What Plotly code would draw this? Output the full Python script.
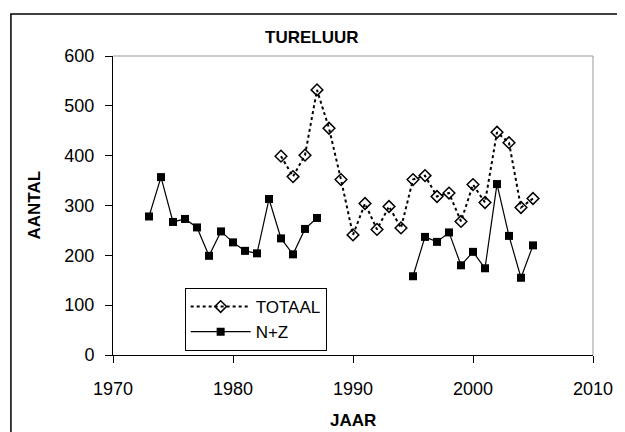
import plotly.graph_objects as go

years_nz = [1973, 1974, 1975, 1976, 1977, 1978, 1979, 1980, 1981, 1982, 1983, 1984, 1985, 1986, 1987,
            1988,
            1995, 1996, 1997, 1998, 1999, 2000, 2001, 2002, 2003, 2004, 2005]
values_nz = [278, 357, 267, 273, 256, 199, 248, 226, 209, 204, 313, 234, 202, 253, 275,
             None,
             158, 237, 227, 246, 180, 207, 174, 343, 239, 155, 220]

years_tot = list(range(1984, 2006))
values_tot = [399, 358, 401, 532, 455, 352, 241, 304, 252, 298, 255, 352, 360, 318, 325,
              268, 342, 306, 447, 426, 296, 314]

x_ticks = [1970, 1980, 1990, 2000, 2010]
y_ticks = [0, 100, 200, 300, 400, 500, 600]

FONT = "Liberation Sans, Arial, sans-serif"

# page body has an 8px margin; lay out in screen pixels and shift
OFF = 8
W, H = 625 - OFF, 432 - OFF
PL, PR, PT, PB = 113, 602, 56, 355  # plot area in screen px
L, T = PL - OFF, PT - OFF
R, B = W - (PR - OFF), H - (PB - OFF)
pw, ph = PR - PL, PB - PT

def px_x(p):
    return (p - PL) / pw

def px_y(p):
    return (PB - p) / ph

fig = go.Figure()
fig.add_trace(go.Scatter(
    x=years_tot, y=values_tot, name="TOTAAL", mode="lines+markers",
    legendgroup="a",
    line=dict(color="black", width=2, dash="dot"),
    marker=dict(symbol="diamond-open", size=9, color="black", line=dict(width=1.5, color="black")),
))
fig.add_trace(go.Scatter(
    x=years_nz, y=values_nz, name="N+Z", mode="lines+markers",
    legendgroup="b",
    line=dict(color="black", width=1.2),
    marker=dict(symbol="square", size=8, color="black"),
    connectgaps=False,
))

fig.update_layout(
    width=W, height=H,
    margin=dict(l=L, r=R, t=T, b=B),
    paper_bgcolor="white", plot_bgcolor="white",
    font=dict(family=FONT, size=16, color="black"),
    showlegend=True,
    legend=dict(
        x=px_x(186), y=px_y(288), xanchor="left", yanchor="top",
        bordercolor="black", borderwidth=1, bgcolor="white",
        font=dict(family=FONT, size=17, color="black"),
        tracegroupgap=0, itemwidth=60,
    ),
    xaxis=dict(
        range=[1970, 2010], tickvals=x_ticks, ticktext=[str(v) for v in x_ticks],
        showgrid=False, zeroline=False, showline=True, linecolor="black", linewidth=1,
        ticks="outside", ticklen=7, tickcolor="black", tickwidth=1,
        tickfont=dict(family=FONT, size=18), ticklabelstandoff=10,
    ),
    yaxis=dict(
        range=[0, 600], tickvals=y_ticks, ticktext=[str(v) for v in y_ticks],
        showgrid=False, zeroline=False, showline=True, linecolor="black", linewidth=1,
        ticks="outside", ticklen=7, tickcolor="black", tickwidth=1,
        tickfont=dict(family=FONT, size=18), ticklabelstandoff=7,
    ),
    shapes=[
        dict(type="rect", xref="paper", yref="paper",
             x0=px_x(9), y0=px_y(445), x1=px_x(640), y1=px_y(14),
             line=dict(color="black", width=1.5), layer="below"),
        dict(type="line", xref="paper", yref="paper", x0=0, y0=1, x1=1, y1=1,
             line=dict(color="#999999", width=1)),
        dict(type="line", xref="paper", yref="paper", x0=1, y0=0, x1=1, y1=1,
             line=dict(color="#999999", width=1)),
    ],
    annotations=[
        dict(text="<b>TURELUUR</b>", xref="paper", yref="paper",
             x=px_x(316), y=px_y(37), xanchor="center", yanchor="middle", showarrow=False,
             font=dict(family=FONT, size=17, color="black")),
        dict(text="<b>JAAR</b>", xref="paper", yref="paper",
             x=px_x(357), y=px_y(420), xanchor="center", yanchor="middle", showarrow=False,
             font=dict(family=FONT, size=17, color="black")),
        dict(text="<b>AANTAL</b>", xref="paper", yref="paper",
             x=px_x(33), y=px_y(205), xanchor="center", yanchor="middle", showarrow=False,
             textangle=-90,
             font=dict(family=FONT, size=17, color="black")),
    ],
)

fig.write_html("out.html")
